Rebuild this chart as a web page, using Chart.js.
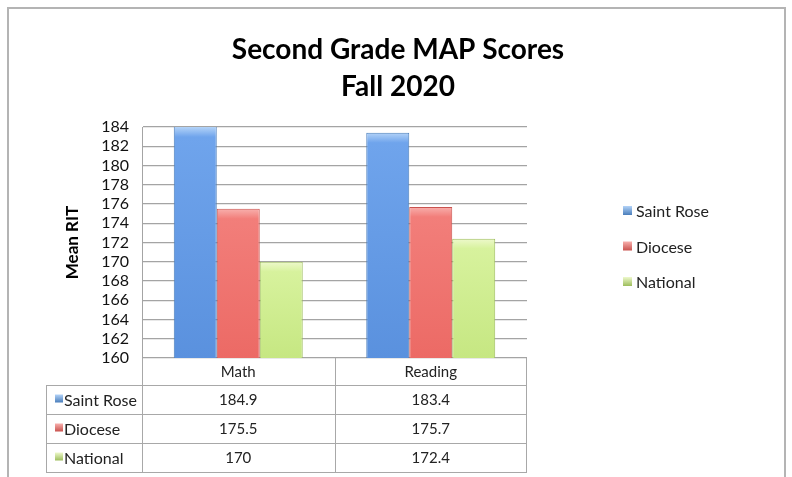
<!DOCTYPE html>
<html>
<head>
<meta charset="utf-8">
<script src="https://cdn.jsdelivr.net/npm/chart.js@4/dist/chart.umd.min.js"></script>
<style>
  html, body { margin: 0; padding: 0; background: #fff; }
  #wrap { width: 792px; height: 477px; }
</style>
</head>
<body>
<div id="wrap"><canvas id="c" width="792" height="477"></canvas></div>
<script>
const titleLines = ['Second Grade MAP Scores', 'Fall 2020'];
const categories = ['Math', 'Reading'];
const seriesNames = ['Saint Rose', 'Diocese', 'National'];
const saintRose = [184.9, 183.4];
const diocese = [175.5, 175.7];
const national = [170, 172.4];
const yMin = 160, yMax = 184, yStep = 2;
const yTitle = 'Mean RIT';

const FONT = 'Lato, "Open Sans", sans-serif';

// colours per series: light top, body, bottom, outline
const palette = [
  { top: '#b3d3f8', mid: '#6fa4ec', bot: '#5a91de', line: '#4a7ebb' },
  { top: '#f8b0ad', mid: '#f27e7a', bot: '#ec6a65', line: '#c9524e' },
  { top: '#eef9cc', mid: '#d7f29d', bot: '#c6e782', line: '#9dbd5c' }
];

function barFill(pal) {
  return (ctx) => {
    const chart = ctx.chart;
    const y = chart.scales && chart.scales.y;
    if (!chart.chartArea || !y || ctx.type !== 'data') return pal.mid;
    const top = Math.max(y.getPixelForValue(ctx.raw), chart.chartArea.top);
    const bottom = y.getPixelForValue(yMin);
    const g = chart.ctx.createLinearGradient(0, top, 0, bottom);
    g.addColorStop(0, pal.top);
    g.addColorStop(Math.min(0.6, 10 / Math.max(bottom - top, 1)), pal.mid);
    g.addColorStop(1, pal.bot);
    return g;
  };
}

function keyFill(ctx, pal, x, y, s) {
  const g = ctx.createLinearGradient(0, y, 0, y + s);
  g.addColorStop(0, pal.top);
  g.addColorStop(1, pal.line);
  ctx.fillStyle = g;
  ctx.fillRect(x, y, s, s);
  ctx.fillStyle = '#222';
}

const frame = {
  id: 'frame',
  beforeDraw(chart) {
    const ctx = chart.ctx;
    ctx.save();
    ctx.fillStyle = '#fff';
    ctx.fillRect(0, 0, chart.width, chart.height);
    ctx.strokeStyle = '#b4b4b4';
    ctx.lineWidth = 2;
    ctx.beginPath();
    ctx.moveTo(8, chart.height);
    ctx.lineTo(8, 8);
    ctx.lineTo(785, 8);
    ctx.lineTo(785, chart.height);
    ctx.stroke();
    ctx.restore();
  }
};

const heading = {
  id: 'heading',
  afterDraw(chart) {
    const ctx = chart.ctx;
    ctx.save();
    ctx.font = 'bold 28px ' + FONT;
    ctx.fillStyle = '#000';
    ctx.textAlign = 'center';
    ctx.textBaseline = 'middle';
    titleLines.forEach((line, i) => ctx.fillText(line, 398, 50 + i * 37));
    ctx.restore();
  }
};

const sideLegend = {
  id: 'sideLegend',
  afterDraw(chart) {
    const ctx = chart.ctx;
    ctx.save();
    ctx.font = '16px ' + FONT;
    ctx.textBaseline = 'middle';
    seriesNames.forEach((name, i) => {
      const cy = 211 + i * 35.5;
      keyFill(ctx, palette[i], 623, cy - 5, 9);
      ctx.fillText(name, 636, cy + 1);
    });
    ctx.restore();
  }
};

const dataTable = {
  id: 'dataTable',
  afterDraw(chart) {
    const ctx = chart.ctx;
    const area = chart.chartArea;
    const values = [saintRose, diocese, national];
    const left = 46, headH = 27, rowH = 29;
    const headTop = area.bottom;
    const colW = (area.right - area.left) / categories.length;
    const bodyTop = headTop + headH;
    const bottom = bodyTop + rowH * seriesNames.length;

    ctx.save();
    ctx.strokeStyle = '#a8a8a8';
    ctx.lineWidth = 1;
    ctx.beginPath();
    ctx.moveTo(area.left + 0.5, headTop);
    ctx.lineTo(area.left + 0.5, bottom);
    ctx.moveTo(area.right - 0.5, headTop);
    ctx.lineTo(area.right - 0.5, bottom + 0.5);
    for (let c = 1; c < categories.length; c++) {
      const x = Math.round(area.left + c * colW) + 0.5;
      ctx.moveTo(x, headTop);
      ctx.lineTo(x, bottom);
    }
    for (let r = 0; r <= seriesNames.length; r++) {
      const y = Math.round(bodyTop + r * rowH) + 0.5;
      ctx.moveTo(left, y);
      ctx.lineTo(area.right, y);
    }
    ctx.moveTo(left + 0.5, bodyTop);
    ctx.lineTo(left + 0.5, bottom + 0.5);
    ctx.stroke();

    ctx.fillStyle = '#222';
    ctx.textBaseline = 'middle';
    ctx.textAlign = 'center';
    ctx.font = '15px ' + FONT;
    categories.forEach((cat, c) => {
      ctx.fillText(cat, area.left + (c + 0.5) * colW, headTop + headH / 2 + 1);
    });
    seriesNames.forEach((name, r) => {
      const cy = bodyTop + r * rowH + rowH / 2 + 1;
      ctx.textAlign = 'left';
      ctx.font = '16px ' + FONT;
      keyFill(ctx, palette[r], 55, cy - 6, 8);
      ctx.fillText(name, 64, cy);
      ctx.textAlign = 'center';
      ctx.font = '15px ' + FONT;
      values[r].forEach((v, c) => {
        ctx.fillText(String(v), area.left + (c + 0.5) * colW, cy);
      });
    });
    ctx.restore();
  }
};

const seriesValues = [saintRose, diocese, national];

new Chart(document.getElementById('c'), {
  type: 'bar',
  data: {
    labels: categories,
    datasets: seriesNames.map((name, i) => ({
      label: name,
      data: seriesValues[i],
      backgroundColor: barFill(palette[i]),
      borderColor: palette[i].line,
      borderWidth: 1,
      borderSkipped: 'bottom',
      barPercentage: 1,
      categoryPercentage: 0.67
    }))
  },
  options: {
    responsive: false,
    animation: false,
    layout: { padding: { left: 62, right: 265, top: 127, bottom: 119 } },
    plugins: {
      legend: { display: false },
      tooltip: { enabled: false },
      title: { display: false }
    },
    scales: {
      x: { display: false, offset: true },
      y: {
        min: yMin,
        max: yMax,
        afterFit(scale) { scale.width = 80; },
        ticks: {
          stepSize: yStep,
          autoSkip: false,
          color: '#111',
          padding: 13,
          font: { family: FONT, size: 16, lineHeight: 1 }
        },
        grid: { color: '#a4a4a4', lineWidth: 1.3, drawTicks: false },
        border: { display: true, color: '#a4a4a4' },
        title: {
          display: true,
          text: yTitle,
          color: '#000',
          font: { family: FONT, size: 17, weight: 'bold' },
          padding: { top: 0, bottom: 0 }
        }
      }
    }
  },
  plugins: [frame, dataTable, sideLegend, heading]
});
</script>
</body>
</html>
